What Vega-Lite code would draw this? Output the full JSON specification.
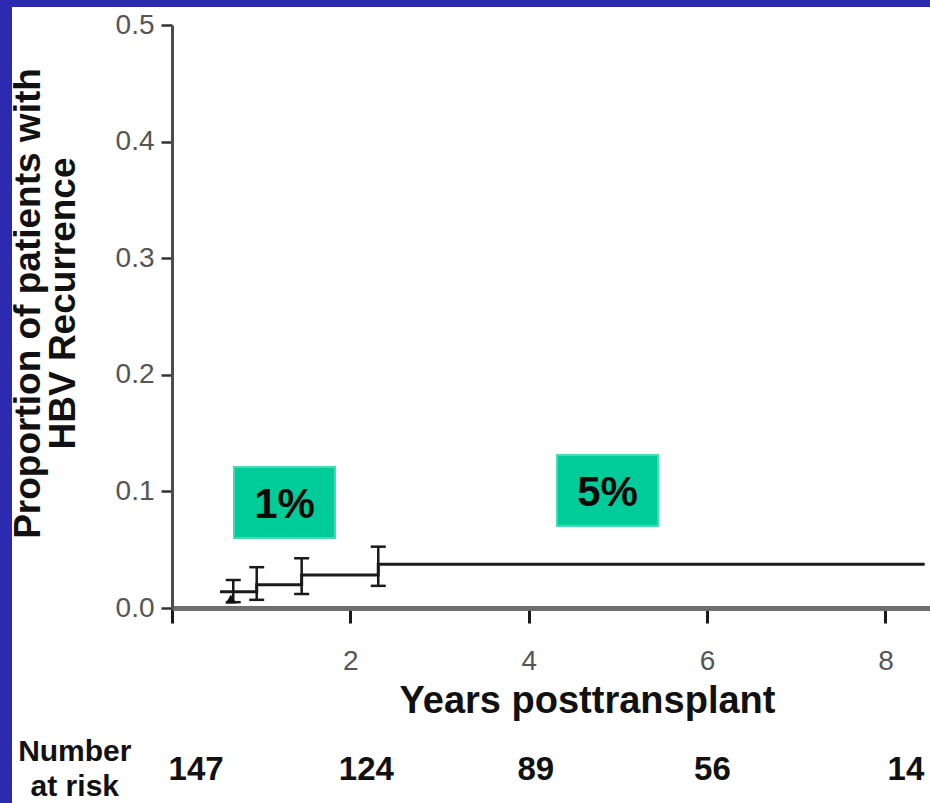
{
  "$schema": "https://vega.github.io/schema/vega-lite/v6.json",
  "width": 758,
  "height": 583,
  "autosize": "none",
  "padding": {"left": 172, "top": 25, "right": 0, "bottom": 195},
  "background": "#2d2ab2",
  "config": {"view": {"stroke": null}, "font": "Liberation Sans"},
  "datasets": {
    "curve": [
      {"years": 0.538, "p": 0.014},
      {"years": 0.95, "p": 0.02},
      {"years": 1.454, "p": 0.0283},
      {"years": 2.313, "p": 0.0375},
      {"years": 8.44, "p": 0.0375}
    ],
    "bars": [
      {"years": 0.687, "lo": 0.005, "hi": 0.024},
      {"years": 0.95, "lo": 0.007, "hi": 0.035},
      {"years": 1.454, "lo": 0.012, "hi": 0.0427},
      {"years": 2.313, "lo": 0.019, "hi": 0.0526}
    ],
    "events": [
      {"years": 0.66, "p": 0.0077}
    ],
    "notes": [
      {"label": "1%", "x0": 0.695, "x1": 1.828, "y0": 0.060, "y1": 0.1209},
      {"label": "5%", "x0": 4.317, "x1": 5.45, "y0": 0.0703, "y1": 0.1312}
    ],
    "risk": [
      {"years": 0.27, "n": 147},
      {"years": 2.18, "n": 124},
      {"years": 4.08, "n": 89},
      {"years": 6.06, "n": 56},
      {"years": 8.23, "n": 14}
    ]
  },
  "layer": [
    {
      "data": {"name": "curve"},
      "mark": {"type": "rect", "fill": "white"},
      "encoding": {
        "x": {"datum": -1.794, "type": "quantitative", "scale": {"domain": [0, 8.5], "nice": false, "zero": false}},
        "x2": {"datum": 9.5},
        "y": {"datum": 0.5154, "type": "quantitative", "scale": {"domain": [0, 0.5], "nice": false}},
        "y2": {"datum": -0.2}
      }
    },
    {
      "data": {"name": "notes"},
      "mark": {"type": "rect", "fill": "#00cc99", "stroke": "#45dcb5", "strokeWidth": 2},
      "encoding": {
        "x": {"field": "x0", "type": "quantitative"},
        "x2": {"field": "x1"},
        "y": {"field": "y0", "type": "quantitative"},
        "y2": {"field": "y1"}
      }
    },
    {
      "data": {"name": "notes"},
      "transform": [
        {"calculate": "(datum.x0 + datum.x1) / 2", "as": "xm"},
        {"calculate": "(datum.y0 + datum.y1) / 2", "as": "ym"}
      ],
      "mark": {"type": "text", "fontSize": 42, "fontWeight": "bold", "color": "#0a0a0a", "align": "center", "baseline": "middle", "dy": 2},
      "encoding": {
        "x": {"field": "xm", "type": "quantitative"},
        "y": {"field": "ym", "type": "quantitative"},
        "text": {"field": "label"}
      }
    },
    {
      "data": {"name": "curve"},
      "mark": {"type": "line", "interpolate": "step-after", "color": "#1a1a1a", "strokeWidth": 3},
      "encoding": {
        "x": {
          "field": "years", "type": "quantitative",
          "scale": {"domain": [0, 8.5], "nice": false, "zero": false},
          "axis": {
            "title": "Years posttransplant",
            "values": [0, 2, 4, 6, 8],
            "format": "d",
            "labelExpr": "datum.value == 0 ? '' : datum.label",
            "grid": false,
            "zindex": 1,
            "domainColor": "#6e6e6e",
            "domainWidth": 5,
            "tickColor": "#1a1a1a",
            "tickWidth": 3,
            "tickSize": 15,
            "labelFont": "Liberation Sans",
            "labelFontSize": 28,
            "labelColor": "#555555",
            "labelBaseline": "alphabetic",
            "labelPadding": 46,
            "labelFlush": false,
            "labelOverlap": false,
            "titleFont": "Liberation Sans",
            "titleFontSize": 38,
            "titleFontWeight": "bold",
            "titleColor": "#111111",
            "titleX": 415,
            "titleY": 104,
            "titleAlign": "center",
            "titleBaseline": "alphabetic"
          }
        },
        "y": {
          "field": "p", "type": "quantitative",
          "scale": {"domain": [0, 0.5], "nice": false},
          "axis": {
            "title": ["Proportion of patients with", "HBV Recurrence"],
            "values": [0, 0.1, 0.2, 0.3, 0.4, 0.5],
            "format": ".1f",
            "grid": false,
            "zindex": 1,
            "domainColor": "#4d4d4d",
            "domainWidth": 3,
            "tickColor": "#333333",
            "tickWidth": 2.5,
            "tickSize": 11,
            "labelFont": "Liberation Sans",
            "labelFontSize": 28,
            "labelColor": "#555555",
            "labelPadding": 7,
            "labelFlush": false,
            "labelOverlap": false,
            "titleFont": "Liberation Sans",
            "titleFontSize": 37,
            "titleFontWeight": "bold",
            "titleColor": "#111111",
            "titleAngle": -90,
            "titleX": -133,
            "titleY": 278,
            "titleAlign": "center",
            "titleBaseline": "alphabetic",
            "titleLineHeight": 35
          }
        }
      }
    },
    {
      "data": {"name": "bars"},
      "mark": {"type": "rule", "color": "#1a1a1a", "strokeWidth": 2.5},
      "encoding": {
        "x": {"field": "years", "type": "quantitative"},
        "y": {"field": "lo", "type": "quantitative"},
        "y2": {"field": "hi"}
      }
    },
    {
      "data": {"name": "bars"},
      "mark": {"type": "tick", "orient": "horizontal", "color": "#1a1a1a", "size": 15, "thickness": 2.5, "opacity": 1},
      "encoding": {
        "x": {"field": "years", "type": "quantitative"},
        "y": {"field": "hi", "type": "quantitative"}
      }
    },
    {
      "data": {"name": "bars"},
      "mark": {"type": "tick", "orient": "horizontal", "color": "#1a1a1a", "size": 15, "thickness": 2.5, "opacity": 1},
      "encoding": {
        "x": {"field": "years", "type": "quantitative"},
        "y": {"field": "lo", "type": "quantitative"}
      }
    },
    {
      "data": {"name": "events"},
      "mark": {"type": "point", "shape": "triangle-up", "filled": true, "color": "#111111", "size": 110, "opacity": 1},
      "encoding": {
        "x": {"field": "years", "type": "quantitative"},
        "y": {"field": "p", "type": "quantitative"}
      }
    },
    {
      "data": {"name": "risk"},
      "mark": {"type": "text", "fontSize": 33, "fontWeight": "bold", "color": "#111111", "align": "center", "baseline": "alphabetic"},
      "encoding": {
        "x": {"field": "years", "type": "quantitative"},
        "y": {"datum": -0.1475, "type": "quantitative"},
        "text": {"field": "n"}
      }
    },
    {
      "data": {"name": "events"},
      "mark": {"type": "text", "text": ["Number", "at risk"], "fontSize": 30, "fontWeight": "bold", "color": "#111111", "align": "center", "baseline": "alphabetic", "lineHeight": 35},
      "encoding": {
        "x": {"datum": -1.09, "type": "quantitative"},
        "y": {"datum": -0.1312, "type": "quantitative"}
      }
    }
  ]
}
